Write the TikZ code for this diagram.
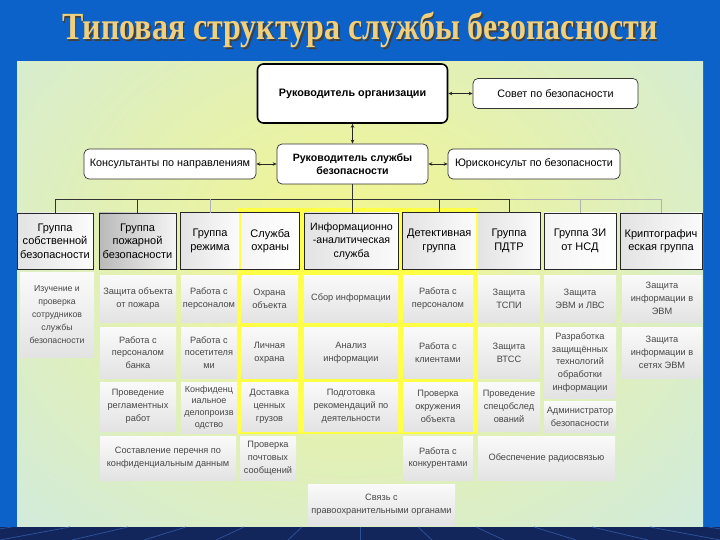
\documentclass[tikz,border=0pt]{standalone}
\usepackage{graphicx}
\usepackage{fontspec}
\setmainfont{Liberation Sans}
\newfontfamily\titlefont{Liberation Serif}
\usetikzlibrary{arrows.meta}
\definecolor{slideblue}{RGB}{12,98,200}
\definecolor{navyband}{RGB}{18,38,92}
\definecolor{bandline}{RGB}{45,80,150}
\definecolor{panelblue}{RGB}{198,231,246}
\definecolor{panelyellow}{RGB}{244,246,140}
\definecolor{brightyellow}{RGB}{255,255,70}
\definecolor{titlegold}{RGB}{240,208,125}
\newcommand\mkcell[6]{\node[cell, minimum width={#4-#2}, minimum height={#5-#3}] (#1) at ({(#2+#4)/2},{(#3+#5)/2}) {#6};}
\begin{document}
\begin{tikzpicture}[x=1pt,y=-1pt,
  topbox/.style={draw=black, line width=1.6pt, rounded corners=6pt, fill=white, align=center, font=\bfseries\fontsize{10.8}{12}\selectfont, inner sep=0pt},
  sidebox/.style={draw=black!80, line width=0.7pt, rounded corners=5pt, fill=white, align=center, font=\fontsize{10.8}{12}\selectfont, inner sep=0pt},
  grpfill/.style={left color=gray!22, right color=gray!3, align=center, font=\fontsize{11}{13.5}\selectfont, inner sep=0pt},
  grpbox/.style={grpfill, draw=black!85, line width=0.7pt},
  grpframe/.style={draw=black!85, line width=0.7pt},
  cell/.style={top color=gray!4, bottom color=gray!22, align=center, text=black!72, font=\fontsize{9.2}{12.8}\selectfont, inner sep=0pt},
  biarrow/.style={{Stealth[length=4pt,width=3.5pt]}-{Stealth[length=4pt,width=3.5pt]}, line width=0.7pt, black!85},
  conn/.style={line width=0.6pt, black!80},
  fconn/.style={line width=0.6pt, black!30},
]
\useasboundingbox (0,0) rectangle (720,540);
\fill[slideblue] (0,0) rectangle (720,540);
% panel
\begin{scope}
  \clip (17,62) rectangle (703,527);
  \shade[inner color=panelyellow, outer color=panelblue] (-290,-270) rectangle (990,770);
  \fill[brightyellow] (237,208) rectangle (478,434);
\end{scope}
% bottom band
\fill[navyband] (0,527) rectangle (720,540);
\foreach \i in {-6,...,6} \draw[bandline, line width=0.8pt] ({360+\i*58},527) -- ({360+\i*72},540);
% title
\node[font=\titlefont\bfseries\fontsize{32}{36}\selectfont, text=black!75] (titleshadow) at (361.5,31.5) {\scalebox{1}[1.2]{Типовая структура службы безопасности}};
\node[font=\titlefont\bfseries\fontsize{32}{36}\selectfont, text=titlegold] (title) at (360,30) {\scalebox{1}[1.2]{Типовая структура службы безопасности}};
% top boxes
\node[topbox, minimum width=190, minimum height=59] (ro) at (352.5,93.5) {Руководитель организации};
\node[sidebox, minimum width=165, minimum height=30] (sov) at (555.5,93.5) {Совет по безопасности};
\node[sidebox, font=\bfseries\fontsize{10.6}{13.5}\selectfont, minimum width=151, minimum height=40] (rs) at (352.5,164) {Руководитель службы\\безопасности};
\node[sidebox, minimum width=172, minimum height=30] (kons) at (170,164) {Консультанты по направлениям};
\node[sidebox, minimum width=172, minimum height=30] (jur) at (534,164) {Юрисконсульт по безопасности};
\draw[biarrow] (ro.east) -- (sov.west);
\draw[biarrow] (ro.south) -- (rs.north);
\draw[biarrow] (kons.east) -- (rs.west);
\draw[biarrow] (rs.east) -- (jur.west);
% groups
\node[grpbox, minimum width=76, minimum height=56] (g1) at (55,241) {Группа\\собственной\\безопасности};
\node[grpbox, left color=gray!55, right color=gray!8, minimum width=77, minimum height=56] (g2) at (137.5,241) {Группа\\пожарной\\безопасности};
\node[grpfill, minimum width=58, minimum height=56] (g3) at (210,241) {Группа\\режима};
\node[grpfill, left color=gray!8, right color=white, minimum width=57.5, minimum height=56] (g4) at (270.25,241) {Служба\\охраны};
\draw[grpframe] (g3.north west) rectangle (g4.south east);
\node[grpbox, font=\fontsize{10.6}{13.5}\selectfont, minimum width=94, minimum height=56] (g5) at (351.5,241) {Информационно\\-аналитическая\\служба};
\node[grpfill, minimum width=72.5, minimum height=56] (g6) at (439.25,241) {Детективная\\группа};
\node[grpfill, minimum width=62, minimum height=56] (g7) at (509,241) {Группа\\ПДТР};
\draw[grpframe] (g6.north west) rectangle (g7.south east);
\node[grpbox, left color=gray!8, right color=white, minimum width=72, minimum height=56] (g8) at (580,241) {Группа ЗИ\\от НСД};
\node[grpbox, minimum width=82, minimum height=56] (g9) at (661,241) {Криптографич\\еская группа};
% tree connectors
\coordinate (busy) at (0,199);
\draw[conn] (g1.north |- busy) -- (g7.north |- busy);
\draw[fconn] (g7.north |- busy) -- (g9.north |- busy);
\draw[conn] (rs.south) -- (rs.south |- g5.north);
\draw[conn] (g1.north) -- (g1.north |- busy);
\draw[conn] (g2.north) -- (g2.north |- busy);
\draw[fconn] (g3.north) -- (g3.north |- busy);
\draw[conn] (g6.north) -- (g6.north |- busy);
\draw[conn] (g7.north) -- (g7.north |- busy);
\draw[fconn] (g8.north) -- (g8.north |- busy);
\draw[fconn] (g9.north) -- (g9.north |- busy);
% task cells
\node[cell, font=\fontsize{8.7}{12.8}\selectfont, minimum width=74, minimum height=85] (c1) at (57,314.5) {Изучение и\\проверка\\сотрудников\\службы\\безопасности};
\mkcell{c2a}{100}{275}{176}{322}{Защита объекта\\от пожара}
\mkcell{c2b}{100}{327}{176}{378}{Работа с\\персоналом\\банка}
\mkcell{c2c}{100}{382}{176}{431}{Проведение\\регламентных\\работ}
\mkcell{c3a}{181}{275}{237}{322}{Работа с\\персоналом}
\mkcell{c3b}{181}{327}{237}{378}{Работа с\\посетителя\\ми}
\node[cell, font=\fontsize{9}{11.8}\selectfont, minimum width=56, minimum height=51] (c3c) at (209,407.5) {Конфиденц\\иальное\\делопроизв\\одство};
\mkcell{c4a}{241}{275}{298}{322}{Охрана\\объекта}
\mkcell{c4b}{241}{327}{298}{378}{Личная\\охрана}
\mkcell{c4c}{241}{382}{298}{431}{Доставка\\ценных\\грузов}
\mkcell{c4d}{240}{436}{296}{480}{Проверка\\почтовых\\сообщений}
\mkcell{c5a}{304}{275}{398}{322}{Сбор информации}
\mkcell{c5b}{304}{327}{398}{378}{Анализ\\информации}
\mkcell{c5c}{304}{382}{398}{431}{Подготовка\\рекомендаций по\\деятельности}
\mkcell{c6a}{403}{275}{473}{322}{Работа с\\персоналом}
\mkcell{c6b}{403}{327}{473}{378}{Работа с\\клиентами}
\mkcell{c6c}{403}{382}{473}{431}{Проверка\\окружения\\объекта}
\mkcell{c6d}{403}{436}{473}{480}{Работа с\\конкурентами}
\mkcell{c7a}{478}{275}{540}{322}{Защита\\ТСПИ}
\mkcell{c7b}{478}{327}{540}{378}{Защита\\ВТСС}
\mkcell{c7c}{478}{382}{540}{431}{Проведение\\спецобслед\\ований}
\mkcell{c8a}{544}{275}{616}{322}{Защита\\ЭВМ и ЛВС}
\mkcell{c8b}{544}{327}{616}{398}{Разработка\\защищённых\\технологий\\обработки\\информации}
\mkcell{c8c}{544}{401}{616}{432}{Администратор\\безопасности}
\mkcell{c9a}{622}{275}{702}{322}{Защита\\информации в\\ЭВМ}
\mkcell{c9b}{622}{327}{702}{378}{Защита\\информации в\\сетях ЭВМ}
\mkcell{cb1}{100}{436}{236}{480}{Составление перечня по\\конфиденциальным данным}
\mkcell{cb2}{478}{436}{615}{480}{Обеспечение радиосвязью}
\mkcell{cb3}{308}{484}{455}{525}{Связь с\\правоохранительными органами}
\end{tikzpicture}
\end{document}
